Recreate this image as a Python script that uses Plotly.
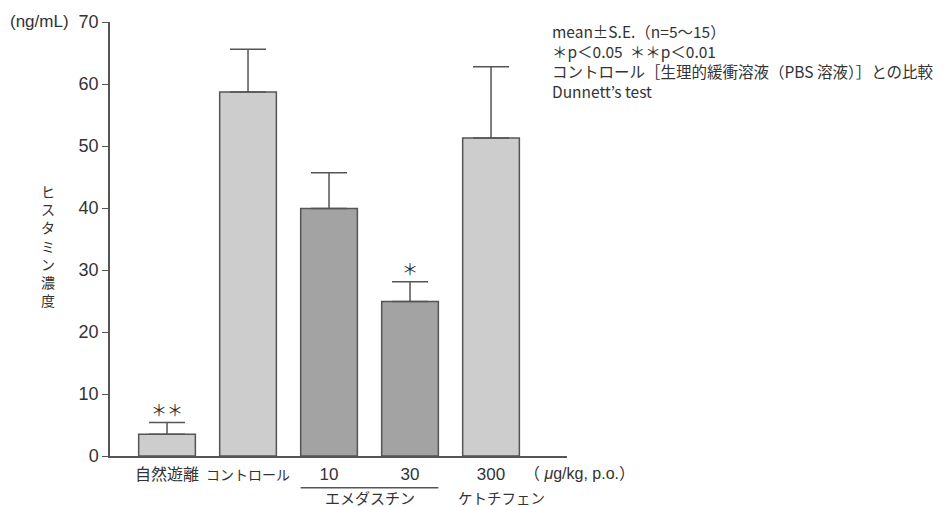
import plotly.graph_objects as go

# Histamine release data (ng/mL), mean and S.E.
groups = ["自然遊離", "コントロール", "10", "30", "300"]
means = [3.5, 58.7, 39.9, 24.9, 51.3]
errors = [1.9, 6.9, 5.8, 3.2, 11.5]
bar_colors = ["#cdcdcd", "#cdcdcd", "#a3a3a3", "#a3a3a3", "#cdcdcd"]
marks = ["＊＊", "", "", "＊", ""]
y_ticks = [0, 10, 20, 30, 40, 50, 60, 70]
y_title = "ヒスタミン濃度"

W, H = 943, 507
ML, MR, MT, MB = 110, 376, 20, 51
FONT = "Liberation Sans, Noto Sans CJK JP, sans-serif"
JP = "Noto Sans CJK JP, sans-serif"
INK = "#333333"
EDGE = "#555555"


def px_x(p):
    return (p - ML) / (W - ML - MR)


def px_y(p):
    return (H - MB - p) / (H - MT - MB)


xs = list(range(len(groups)))
tick_sizes = {"自然遊離": 16, "コントロール": 14}
tick_text = []
for g in groups:
    if g.isdigit():
        tick_text.append(f"<span style='font-size:17px;font-family:Liberation Sans'>{g}</span>")
    else:
        tick_text.append(f"<span style='font-size:{tick_sizes[g]}px'>{g}</span>")

fig = go.Figure()
fig.add_trace(go.Bar(
    x=xs, y=means, width=0.70,
    marker=dict(color=bar_colors, line=dict(color=EDGE, width=1.5)),
    error_y=dict(type="data", array=errors, arrayminus=[0] * len(errors),
                 symmetric=False, color=EDGE, thickness=1.5, width=18),
    showlegend=False, hoverinfo="skip",
))

annotations = []
# significance marks above the error caps
for x, m, e, s in zip(xs, means, errors, marks):
    if s:
        annotations.append(dict(x=x, y=m + e, xref="x", yref="y", text=s,
                                showarrow=False, yanchor="bottom", yshift=0,
                                font=dict(family=JP, size=16, color=INK)))

# unit of the y axis
annotations.append(dict(x=px_x(71), y=px_y(19), xref="paper", yref="paper",
                        text="(ng/mL)", showarrow=False, xanchor="right",
                        yanchor="middle", font=dict(family=FONT, size=17, color=INK)))
# vertical axis title, one character per line, set upright
annotations.append(dict(x=px_x(48), y=px_y(245), xref="paper", yref="paper",
                        text="<br>".join(y_title), showarrow=False,
                        xanchor="center", yanchor="middle",
                        font=dict(family=JP, size=14, color=INK)))
# dose unit
annotations.append(dict(x=px_x(522), y=px_y(474), xref="paper", yref="paper",
                        text="（ <i>μ</i>g/kg, p.o.）", showarrow=False,
                        xanchor="left", yanchor="middle",
                        font=dict(family=FONT, size=16, color=INK)))
# drug names
annotations.append(dict(x=2.5, y=px_y(498), xref="x", yref="paper",
                        text="エメダスチン", showarrow=False, xanchor="center",
                        yanchor="middle", font=dict(family=JP, size=15, color=INK)))
annotations.append(dict(x=px_x(456), y=px_y(498), xref="paper", yref="paper",
                        text="ケトチフェン", showarrow=False, xanchor="left",
                        yanchor="middle", font=dict(family=JP, size=14.5, color=INK)))
# statistics note
annotations.append(dict(x=px_x(550), y=px_y(16), xref="paper", yref="paper",
                        text=("mean±S.E.（n=5～15）<br>"
                              "＊p＜0.05  ＊＊p＜0.01<br>"
                              "コントロール［生理的緩衝溶液（PBS 溶液）］との比較<br>"
                              "Dunnett’s test"),
                        showarrow=False, xanchor="left", yanchor="top", align="left",
                        font=dict(family=JP, size=15.5, color=INK)))

fig.update_layout(
    width=W, height=H,
    margin=dict(l=ML, r=MR, t=MT, b=MB, pad=0),
    paper_bgcolor="white", plot_bgcolor="white",
    annotations=annotations,
    shapes=[dict(type="line", xref="x", yref="paper", x0=1.65, x1=3.35,
                 y0=px_y(488), y1=px_y(488), line=dict(color=EDGE, width=1.5))],
    font=dict(family=FONT, color=INK),
)
fig.update_xaxes(
    range=[-0.704, 4.938], tickvals=xs, ticktext=tick_text,
    showline=True, linecolor=EDGE, linewidth=1.5, ticks="",
    showgrid=False, zeroline=False, ticklabelstandoff=5,
    tickfont=dict(family=JP, size=14, color=INK),
)
fig.update_yaxes(
    range=[0, 70], tickvals=y_ticks,
    showline=True, linecolor=EDGE, linewidth=1.5,
    ticks="outside", ticklen=6, tickcolor=EDGE, tickwidth=1,
    showgrid=False, zeroline=False,
    tickfont=dict(family=FONT, size=18, color=INK),
)

fig.write_html("out.html")
